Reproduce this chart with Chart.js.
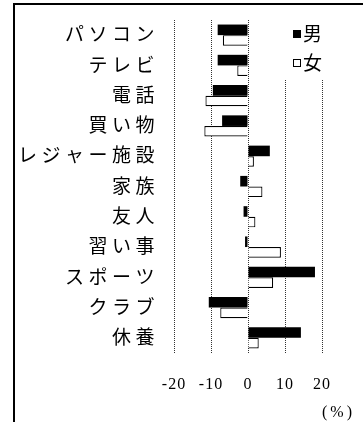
<!DOCTYPE html>
<html>
<head>
<meta charset="utf-8">
<script src="https://cdn.jsdelivr.net/npm/chart.js@4/dist/chart.umd.min.js"></script>
<style>
  html, body { margin: 0; padding: 0; background: #fff; }
  #wrap { position: relative; width: 363px; height: 422px; overflow: hidden; }
  #frame { position: absolute; left: 13px; top: 3px; right: -10px; bottom: -10px;
           border-left: 2px solid #000; border-top: 2px solid #000; pointer-events: none; }
  canvas { position: absolute; left: 0; top: 0; }
</style>
</head>
<body>
<div id="wrap">
  <canvas id="c" width="363" height="422"></canvas>
  <div id="frame"></div>
</div>
<script>
// Activities, top to bottom
const categories = ['パソコン', 'テレビ', '電話', '買い物', 'レジャー施設', '家族', '友人', '習い事', 'スポーツ', 'クラブ', '休養'];
const seriesNames = ['男', '女'];
// Change in percentage points
const maleValues   = [-8.2, -8.2, -9.5, -7.0, 5.9, -2.1, -1.2, -0.8, 18.1, -10.6, 14.3];
const femaleValues = [-6.8, -2.9, -11.5, -11.8, 1.6, 3.9, 2.0, 8.9, 6.8, -7.5, 2.9];
const xTicks = [-20, -10, 0, 10, 20];
const unitLabel = '(%)';

const CJK = '"Noto Sans CJK JP"';
const LABEL_SPACING = '4.5px';
const NUMBER_SPACING = '1px';

// Letter spacing for axis text, the legend panel and the unit note
const decor = {
  id: 'decor',
  beforeUpdate(chart) { chart.ctx.letterSpacing = NUMBER_SPACING; },
  afterLayout(chart) {
    const y = chart.scales.y;
    if (y && !y._spaced) {
      const draw = y.drawLabels.bind(y);
      y.drawLabels = function (area) {
        const c = this.ctx, prev = c.letterSpacing;
        c.letterSpacing = LABEL_SPACING;
        draw(area);
        c.letterSpacing = prev;
      };
      y._spaced = true;
    }
  },
  beforeDraw(chart) { chart.ctx.letterSpacing = NUMBER_SPACING; },
  afterDraw(chart) {
    const ctx = chart.ctx;
    const area = chart.chartArea;
    ctx.save();
    ctx.letterSpacing = '0px';
    // legend panel over the upper right of the plot
    const lx = area.right - 29, ly = area.top + 10;
    ctx.fillStyle = '#fff';
    ctx.fillRect(lx - 13, area.top - 6, 64, 66);
    ctx.font = '19px ' + CJK;
    ctx.textBaseline = 'middle';
    ctx.textAlign = 'left';
    chart.data.datasets.forEach((ds, i) => {
      const y = ly + i * 29;
      ctx.fillStyle = ds.backgroundColor;
      ctx.fillRect(lx, y, 8, 8);
      if (ds.borderWidth) {
        ctx.strokeStyle = ds.borderColor;
        ctx.lineWidth = 1;
        ctx.strokeRect(lx + 0.5, y + 0.5, 7, 7);
      }
      ctx.fillStyle = '#000';
      ctx.fillText(ds.label, lx + 10, y + 4);
    });
    // unit note under the axis
    ctx.font = '16px "Liberation Serif"';
    ctx.letterSpacing = '3px';
    ctx.fillText(unitLabel, area.right, 413);
    ctx.restore();
  }
};

new Chart(document.getElementById('c'), {
  type: 'bar',
  data: {
    labels: categories,
    datasets: [
      { label: seriesNames[0], data: maleValues, backgroundColor: '#000', borderColor: '#000', borderWidth: 0 },
      { label: seriesNames[1], data: femaleValues, backgroundColor: '#fff', borderColor: '#000', borderWidth: 1.2 }
    ]
  },
  options: {
    indexAxis: 'y',
    responsive: false,
    animation: false,
    devicePixelRatio: 1,
    layout: { padding: { left: 0, right: 41, top: 20, bottom: 19 } },
    datasets: { bar: { categoryPercentage: 0.7, barPercentage: 1 } },
    plugins: { legend: { display: false }, tooltip: { enabled: false } },
    scales: {
      x: {
        min: -20, max: 20,
        afterBuildTicks: s => { s.ticks = xTicks.map(v => ({ value: v })); },
        grid: { color: '#333', lineWidth: 1, drawTicks: false },
        border: { display: false, dash: [1, 1] },
        ticks: { font: { family: '"Liberation Serif"', size: 16 }, color: '#000', padding: 22, maxRotation: 0, autoSkip: false },
        afterFit: s => { s.height = 50; }
      },
      y: {
        grid: { display: false },
        border: { display: false },
        ticks: { font: { family: CJK, size: 19 }, color: '#000', padding: 7, autoSkip: false, labelOffset: -1 },
        afterFit: s => { s.width = 174; }
      }
    }
  },
  plugins: [decor]
});
</script>
</body>
</html>
